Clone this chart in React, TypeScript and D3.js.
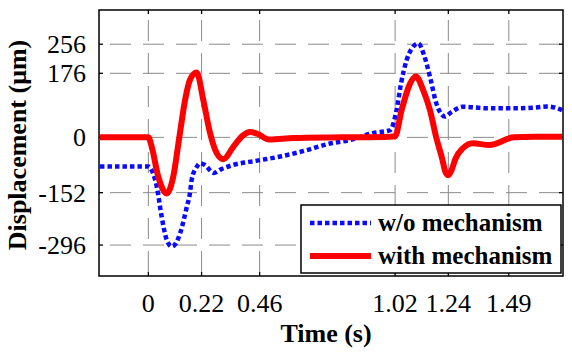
import { useEffect, useRef } from 'react';
import * as d3 from 'd3';

// time (s) / displacement (µm)
const woTime = [
  -0.2, 0, 0.02, 0.035, 0.055, 0.076, 0.097, 0.115, 0.131, 0.159, 0.172, 0.179, 0.2, 0.214, 0.234,
  0.27, 0.3, 0.35, 0.45, 0.55, 0.65, 0.75, 0.83, 0.93, 1.0, 1.026, 1.045, 1.068, 1.09, 1.116, 1.14,
  1.164, 1.19, 1.21, 1.226, 1.25, 1.3, 1.4, 1.51, 1.6, 1.65, 1.71,
];
const woValues = [
  -80, -80, -100, -136, -218, -282, -300, -290, -264, -191, -153, -117, -81, -71, -76,
  -98, -88, -76, -64, -52, -36, -17, -8, 12, 20, 75, 150, 213, 245, 258, 225,
  167, 94, 65, 57, 68, 84, 80, 80, 82, 85, 75,
];

const withTime = [
  -0.2, 0, 0.014, 0.041, 0.076, 0.103, 0.128, 0.152, 0.172, 0.2, 0.227, 0.255, 0.283, 0.31, 0.351,
  0.39, 0.42, 0.45, 0.5, 0.6, 0.8, 1.0, 1.02, 1.047, 1.08, 1.106, 1.136, 1.164, 1.19, 1.215, 1.228,
  1.24, 1.252, 1.27, 1.3, 1.34, 1.41, 1.51, 1.6, 1.71,
];
const withValues = [
  0, 0, -26, -108, -154, -108, 0, 103, 158, 178, 103, 12, -44, -60, -26,
  5, 15, 10, -6, -2, 0, 2, 3, 75, 145, 167, 130, 75, 0, -60, -95,
  -104, -92, -58, -30, -16, -21, 0, 2, 2,
];

const xTicks = [0, 0.22, 0.46, 1.02, 1.24, 1.49];
const yTicks = [256, 176, 0, -152, -296];

const seriesNames = ['w/o mechanism', 'with mechanism'];

export default function App() {
  const svgRef = useRef<SVGSVGElement>(null);

  useEffect(() => {
    if (!svgRef.current) return;
    const svg = d3.select(svgRef.current);
    svg.selectAll('*').remove();

    const left = 99, right = 563, top = 10, bottom = 276;
    const font = "'Liberation Serif', 'Times New Roman', serif";

    const x = d3.scaleLinear().domain([-0.204, 1.714]).range([left, right]);
    const y = d3.scaleLinear().domain([-381, 350]).range([bottom, top]);

    // grid
    const grid = svg.append('g').attr('stroke', '#8a8a8a').attr('stroke-width', 1)
      .attr('stroke-dasharray', '21 12');
    grid.selectAll('.gx').data(xTicks).join('line')
      .attr('x1', (d) => x(d)).attr('x2', (d) => x(d))
      .attr('y1', top + 10).attr('y2', bottom);
    grid.selectAll('.gy').data(yTicks).join('line')
      .attr('x1', left + 11).attr('x2', right)
      .attr('y1', (d) => y(d)).attr('y2', (d) => y(d));

    // tick marks inside the box, all four sides
    const ticks = svg.append('g').attr('stroke', '#000').attr('stroke-width', 1.3);
    xTicks.forEach((t) => {
      ticks.append('line').attr('x1', x(t)).attr('x2', x(t)).attr('y1', bottom).attr('y2', bottom - 4);
      ticks.append('line').attr('x1', x(t)).attr('x2', x(t)).attr('y1', top).attr('y2', top + 4);
    });
    yTicks.forEach((t) => {
      ticks.append('line').attr('x1', left).attr('x2', left + 4).attr('y1', y(t)).attr('y2', y(t));
      ticks.append('line').attr('x1', right).attr('x2', right - 4).attr('y1', y(t)).attr('y2', y(t));
    });

    const line = d3.line<[number, number]>()
      .x((d) => x(d[0]))
      .y((d) => y(d[1]))
      .curve(d3.curveMonotoneX);

    const clip = svg.append('clipPath').attr('id', 'plot-clip');
    clip.append('rect').attr('x', left).attr('y', top).attr('width', right - left).attr('height', bottom - top);
    const plot = svg.append('g').attr('clip-path', 'url(#plot-clip)');

    plot.append('path')
      .datum(d3.zip(woTime, woValues) as [number, number][])
      .attr('fill', 'none')
      .attr('stroke', '#0a0aff')
      .attr('stroke-width', 4.5)
      .attr('stroke-dasharray', '4.5 3')
      .attr('d', line);

    plot.append('path')
      .datum(d3.zip(withTime, withValues) as [number, number][])
      .attr('fill', 'none')
      .attr('stroke', '#ff0000')
      .attr('stroke-width', 6)
      .attr('stroke-linejoin', 'round')
      .attr('d', line);

    // box
    svg.append('rect')
      .attr('x', left).attr('y', top).attr('width', right - left).attr('height', bottom - top)
      .attr('fill', 'none').attr('stroke', '#000').attr('stroke-width', 1.5);

    // tick labels
    svg.append('g').selectAll('text').data(xTicks).join('text')
      .attr('x', (d) => x(d)).attr('y', 312)
      .attr('text-anchor', 'middle')
      .style('font-family', font).style('font-size', '26px')
      .text((d) => String(d));
    svg.append('g').selectAll('text').data(yTicks).join('text')
      .attr('x', 86).attr('y', (d) => y(d)).attr('dy', '0.35em')
      .attr('text-anchor', 'end')
      .style('font-family', font).style('font-size', '26px')
      .text((d) => String(d));

    // axis titles
    svg.append('text')
      .attr('x', 326).attr('y', 342)
      .attr('text-anchor', 'middle')
      .style('font-family', font).style('font-size', '26px').style('font-weight', 'bold')
      .text('Time (s)');
    svg.append('text')
      .attr('transform', 'translate(26,145) rotate(-90)')
      .attr('text-anchor', 'middle')
      .style('font-family', font).style('font-size', '26px').style('font-weight', 'bold')
      .text('Displacement (μm)');

    // legend
    const lg = svg.append('g');
    lg.append('rect').attr('x', 301).attr('y', 205).attr('width', 260).attr('height', 68)
      .attr('fill', '#fff').attr('stroke', '#000').attr('stroke-width', 1.5);
    const styles = [
      { color: '#0a0aff', width: 4.5, dash: '4.5 3' },
      { color: '#ff0000', width: 6, dash: null },
    ];
    seriesNames.forEach((name, i) => {
      const ly = 223 + i * 33;
      lg.append('line').attr('x1', 310).attr('x2', 371).attr('y1', ly).attr('y2', ly)
        .attr('stroke', styles[i].color).attr('stroke-width', styles[i].width)
        .attr('stroke-dasharray', styles[i].dash);
      lg.append('text').attr('x', 378).attr('y', ly + 8)
        .style('font-family', font).style('font-size', '25px').style('font-weight', 'bold')
        .text(name);
    });
  }, []);

  return (
    <svg
      ref={svgRef}
      width={572}
      height={361}
      style={{ position: 'absolute', left: 0, top: 0, background: '#fff' }}
    />
  );
}
